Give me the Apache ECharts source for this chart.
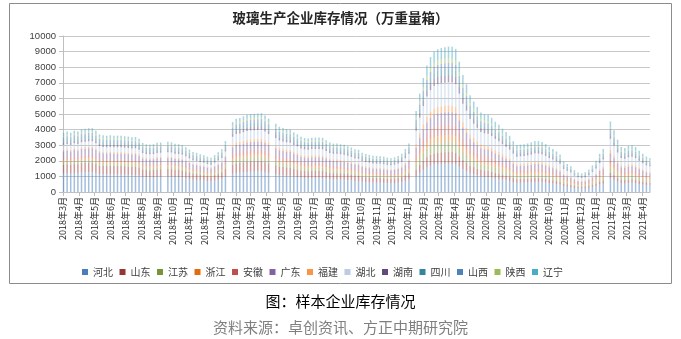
<!DOCTYPE html>
<html>
<head>
<meta charset="utf-8">
<script src="https://cdn.jsdelivr.net/npm/echarts/dist/echarts.min.js"></script>
<style>
html, body { margin: 0; padding: 0; background: #ffffff; }
#chart { width: 681px; height: 339px; }
</style>
</head>
<body>
<div id="chart"></div>
<script>
// Weekly report dates (holiday weeks without a report are absent)
const weeks = [
  '2018-03-02','2018-03-09','2018-03-16','2018-03-23','2018-03-30','2018-04-06','2018-04-13','2018-04-20','2018-04-27',
  '2018-05-04','2018-05-11','2018-05-18','2018-05-25','2018-06-01','2018-06-08','2018-06-15','2018-06-22','2018-06-29',
  '2018-07-06','2018-07-13','2018-07-20','2018-07-27','2018-08-03','2018-08-10','2018-08-17','2018-08-24','2018-08-31',
  '2018-09-07','2018-09-21','2018-09-28','2018-10-05','2018-10-12','2018-10-19','2018-10-26','2018-11-02','2018-11-09',
  '2018-11-16','2018-11-23','2018-11-30','2018-12-07','2018-12-14','2018-12-21','2018-12-28',
  '2019-01-04','2019-01-11','2019-01-25','2019-02-01','2019-02-08','2019-02-15','2019-02-22','2019-03-01','2019-03-08',
  '2019-03-15','2019-03-22','2019-03-29','2019-04-05','2019-04-19','2019-04-26','2019-05-03','2019-05-10','2019-05-17',
  '2019-05-24','2019-05-31','2019-06-07','2019-06-14','2019-06-21','2019-06-28','2019-07-05','2019-07-12','2019-07-19',
  '2019-07-26','2019-08-02','2019-08-09','2019-08-16','2019-08-23','2019-08-30','2019-09-06','2019-09-13','2019-09-20',
  '2019-09-27','2019-10-04','2019-10-11','2019-10-18','2019-10-25','2019-11-01','2019-11-08','2019-11-15','2019-11-22',
  '2019-11-29','2019-12-06','2019-12-13','2019-12-20','2019-12-27',
  '2020-01-03','2020-01-17','2020-01-24','2020-01-31','2020-02-07','2020-02-14','2020-02-21','2020-02-28','2020-03-06',
  '2020-03-13','2020-03-20','2020-03-27','2020-04-03','2020-04-10','2020-04-17','2020-04-24','2020-05-01','2020-05-08',
  '2020-05-15','2020-05-22','2020-05-29','2020-06-05','2020-06-12','2020-06-19','2020-06-26','2020-07-03','2020-07-10',
  '2020-07-17','2020-07-24','2020-07-31','2020-08-07','2020-08-14','2020-08-21','2020-08-28','2020-09-04','2020-09-11',
  '2020-09-18','2020-09-25','2020-10-02','2020-10-09','2020-10-16','2020-10-23','2020-10-30','2020-11-06','2020-11-13',
  '2020-11-20','2020-11-27','2020-12-04','2020-12-11','2020-12-18','2020-12-25',
  '2021-01-01','2021-01-08','2021-01-15','2021-01-29','2021-02-05','2021-02-12','2021-02-19','2021-02-26','2021-03-05',
  '2021-03-12','2021-03-19','2021-03-26','2021-04-02','2021-04-09','2021-04-16'
];

// Inventory by province, 万重量箱, one value per report date
const hebei = [
  1180,1200,1180,1220,1200,1250,1260,1270,1270,1210,1140,1130,1120,1130,1120,1120,1120,1110,1100,1090,1090,1060,980,950,940,950,980,980,1000,990,960,950,930,890,840,790,780,750,730,700,680,730,790,850,1010,
  1165,1222,1235,1261,1287,1300,1305,1310,1313,1274,1222,1139,1087,1066,1050,1040,993,962,920,900,892,905,907,907,902,863,824,806,806,796,785,764,741,712,702,655,634,619,603,598,595,588,572,564,577,601,637,715,806,
  1014,1229,1424,1580,1687,1755,1784,1800,1810,1817,1814,1788,1628,1463,1346,1209,1131,1063,995,971,965,926,878,839,792,751,702,636,585,593,597,606,620,636,636,624,599,564,538,507,468,382,351,322,273,244,232,246,279,332,390,478,536,881,770,653,562,550,575,585,562,517,478,443,425
];
const shandong = [
  570,580,570,590,580,600,610,620,620,590,550,550,540,550,540,540,540,540,530,530,530,510,470,460,460,460,470,480,480,480,460,460,450,430,410,380,380,360,350,340,330,350,380,410,490,
  582,611,618,631,644,650,653,655,657,637,611,569,543,533,525,520,497,481,460,450,446,452,454,454,451,432,412,403,403,398,393,382,371,356,351,328,317,309,302,299,298,294,286,282,289,300,319,358,403,
  416,504,584,648,692,720,732,738,742,746,744,734,668,600,552,496,464,436,408,398,396,380,360,344,325,308,288,261,240,243,245,249,254,261,261,256,246,231,221,208,192,157,144,132,112,100,95,101,114,136,160,196,220,362,316,268,230,226,236,240,230,212,196,182,174
];
const jiangsu = [
  170,170,170,180,170,180,180,180,180,180,170,160,160,160,160,160,160,160,160,160,160,150,140,140,140,140,140,140,140,140,140,140,140,130,120,120,110,110,110,100,100,110,110,120,150,
  246,259,261,267,272,275,276,277,278,270,259,241,230,226,222,220,210,204,195,190,189,191,192,192,191,183,174,171,171,168,166,162,157,151,149,139,134,131,128,127,126,124,121,119,122,127,135,151,171,
  364,441,511,567,606,630,641,646,650,652,651,642,585,525,483,434,406,382,357,349,347,333,315,301,284,270,252,228,210,213,214,218,223,228,228,224,215,202,193,182,168,137,126,116,98,88,83,88,100,119,140,172,193,316,277,235,202,197,207,210,202,186,172,159,153
];
const zhejiang = [
  110,120,110,120,120,120,120,120,120,120,110,110,110,110,110,110,110,110,110,100,110,100,90,90,90,90,100,100,100,100,90,90,90,90,80,80,80,70,70,70,70,70,80,80,100,
  157,165,166,170,173,175,176,176,177,172,165,153,146,144,141,140,134,130,124,121,120,122,122,122,121,116,111,109,109,107,106,103,100,96,95,88,85,83,81,81,80,79,77,76,78,81,86,96,109,
  234,284,329,365,389,405,412,415,418,419,419,413,376,338,311,279,261,245,230,224,223,214,203,194,183,173,162,147,135,137,138,140,143,147,147,144,138,130,124,117,108,88,81,74,63,56,54,57,64,77,90,110,124,203,178,151,130,127,133,135,130,119,110,102,98
];
const anhui = [
  170,170,170,180,170,180,180,180,180,180,170,160,160,160,160,160,160,160,160,160,160,150,140,140,140,140,140,140,140,140,140,140,140,130,120,120,110,110,110,100,100,110,110,120,150,
  269,282,285,291,297,300,301,302,303,294,282,263,251,246,242,240,229,222,212,208,206,209,209,209,208,199,190,186,186,184,181,176,171,164,162,151,146,143,139,138,137,136,132,130,133,139,147,165,186,
  390,473,548,608,649,675,686,692,696,699,698,688,626,563,518,465,435,409,383,374,371,356,338,323,305,289,270,245,225,228,230,233,239,245,245,240,230,217,207,195,180,147,135,124,105,94,89,95,107,128,150,184,206,339,296,251,216,212,221,225,216,199,184,170,164
];
const guangdong = [
  400,410,400,410,410,420,430,430,430,410,390,380,380,380,380,380,380,370,370,370,370,360,330,320,320,320,330,330,340,330,320,320,320,300,290,270,260,250,250,240,230,250,270,290,340,
  448,470,475,485,495,500,502,504,505,490,470,438,418,410,404,400,382,370,354,346,343,348,349,349,347,332,317,310,310,306,302,294,285,274,270,252,244,238,232,230,229,226,220,217,222,231,245,275,310,
  442,536,621,689,735,765,778,785,789,792,791,779,710,638,587,527,493,463,434,423,421,404,383,366,345,327,306,277,255,258,260,264,270,277,277,272,261,246,235,221,204,167,153,140,119,106,101,107,122,145,170,208,234,384,336,285,245,240,251,255,245,225,208,193,185
];
const fujian = [
  95,97,95,98,97,100,102,103,103,98,92,91,90,91,90,91,91,89,89,88,88,86,79,76,76,77,79,79,81,80,77,77,75,72,68,64,63,61,59,56,55,59,64,69,81,
  157,165,166,170,173,175,176,176,177,172,165,153,146,144,141,140,134,130,124,121,120,122,122,122,121,116,111,109,109,107,106,103,100,96,95,88,85,83,81,81,80,79,77,76,78,81,86,96,109,
  234,284,329,365,389,405,412,415,418,419,419,413,376,338,311,279,261,245,230,224,223,214,203,194,183,173,162,147,135,137,138,140,143,147,147,144,138,130,124,117,108,88,81,74,63,56,54,57,64,77,90,110,124,203,178,151,130,127,133,135,130,119,110,102,98
];
const hubei = [
  323,329,323,333,330,342,345,349,349,332,313,310,307,309,307,308,308,303,303,298,298,291,268,259,258,260,269,269,274,270,263,260,255,243,231,218,213,206,199,191,187,201,217,234,276,
  515,541,546,558,569,575,577,580,581,564,541,504,481,472,465,460,439,426,407,398,394,400,401,401,399,382,365,357,357,352,347,338,328,315,311,290,281,274,267,265,263,260,253,250,255,266,282,316,357,
  832,1008,1168,1296,1384,1440,1464,1477,1485,1491,1488,1467,1336,1200,1104,992,928,872,816,797,792,760,720,688,650,616,576,522,480,486,490,498,509,522,522,512,491,462,442,416,384,314,288,264,224,200,190,202,229,272,320,392,440,723,632,536,461,451,472,480,461,424,392,363,349
];
const hunan = [
  152,155,152,157,155,161,162,164,164,156,147,146,144,146,144,145,145,143,142,140,140,137,126,122,122,122,126,127,129,127,124,122,120,114,109,102,100,97,94,90,88,94,102,110,130,
  202,212,214,218,223,225,226,227,227,221,212,197,188,185,182,180,172,167,159,156,154,157,157,157,156,149,143,140,140,138,136,132,128,123,122,113,110,107,104,104,103,102,99,98,100,104,110,124,140,
  260,315,365,405,433,450,458,462,464,466,465,459,418,375,345,310,290,273,255,249,248,238,225,215,203,193,180,163,150,152,153,156,159,163,163,160,154,145,138,130,120,98,90,83,70,63,60,63,72,85,100,123,138,226,198,168,144,141,148,150,144,133,123,114,109
];
const sichuan = [
  190,194,190,196,194,201,203,205,205,195,184,183,181,182,181,181,181,179,178,175,176,171,158,153,152,153,158,159,161,159,155,153,150,143,136,128,125,121,117,113,110,118,128,138,163,
  224,235,238,243,248,250,251,252,253,245,235,219,209,205,202,200,191,185,177,173,172,174,175,175,174,166,159,155,155,153,151,147,143,137,135,126,122,119,116,115,115,113,110,109,111,116,123,138,155,
  234,284,329,365,389,405,412,415,418,419,419,413,376,338,311,279,261,245,230,224,223,214,203,194,183,173,162,147,135,137,138,140,143,147,147,144,138,130,124,117,108,88,81,74,63,56,54,57,64,77,90,110,124,203,178,151,130,127,133,135,130,119,110,102,98
];
const shanxi = [
  152,155,152,157,155,161,162,164,164,156,147,146,144,146,144,145,145,143,142,140,140,137,126,122,122,122,126,127,129,127,124,122,120,114,109,102,100,97,94,90,88,94,102,110,130,
  179,188,190,194,198,200,201,202,202,196,188,175,167,164,162,160,153,148,142,138,137,139,140,140,139,133,127,124,124,122,121,118,114,110,108,101,98,95,93,92,92,90,88,87,89,92,98,110,124,
  208,252,292,324,346,360,366,369,371,373,372,367,334,300,276,248,232,218,204,199,198,190,180,172,162,154,144,130,120,122,122,124,127,130,130,128,123,116,110,104,96,78,72,66,56,50,48,50,57,68,80,98,110,181,158,134,115,113,118,120,115,106,98,91,87
];
const shaanxi = [
  95,97,95,98,97,100,102,103,103,98,92,91,90,91,90,91,91,89,89,88,88,86,79,76,76,77,79,79,81,80,77,77,75,72,68,64,63,61,59,56,55,59,64,69,81,
  112,118,119,121,124,125,126,126,126,123,118,110,105,103,101,100,96,93,89,87,86,87,87,87,87,83,79,78,78,77,76,74,71,69,68,63,61,60,58,58,57,57,55,54,56,58,61,69,78,
  156,189,219,243,260,270,275,277,278,280,279,275,251,225,207,186,174,164,153,149,149,143,135,129,122,116,108,98,90,91,92,93,95,98,98,96,92,87,83,78,72,59,54,50,42,38,36,38,43,51,60,74,83,136,119,101,86,85,89,90,86,80,74,68,65
];
const liaoning = [
  190,194,190,196,194,201,203,205,205,195,184,183,181,182,181,181,181,179,178,175,176,171,158,153,152,153,158,159,161,159,155,153,150,143,136,128,125,121,117,113,110,118,128,138,163,
  224,235,238,243,248,250,251,252,253,245,235,219,209,205,202,200,191,185,177,173,172,174,175,175,174,166,159,155,155,153,151,147,143,137,135,126,122,119,116,115,115,113,110,109,111,116,123,138,155,
  416,504,584,648,692,720,732,738,742,746,744,734,668,600,552,496,464,436,408,398,396,380,360,344,325,308,288,261,240,243,245,249,254,261,261,256,246,231,221,208,192,157,144,132,112,100,95,101,114,136,160,196,220,362,316,268,230,226,236,240,230,212,196,182,174
];

const regions = ['河北','山东','江苏','浙江','安徽','广东','福建','湖北','湖南','四川','山西','陕西','辽宁'];
const regionValues = [hebei, shandong, jiangsu, zhejiang, anhui, guangdong, fujian, hubei, hunan, sichuan, shanxi, shaanxi, liaoning];
const regionColors = ['#4A7EBB','#953735','#77933C','#E46C0A','#C0504D','#8064A2','#F79646','#B9CDE5','#604A7B','#31859C','#4F81BD','#9BBB59','#4BACC6'];

// Date axis: one category per calendar day from the first of March 2018
// to the last report, so reports and month starts fall at their real dates
const axisStart = '2018-03-01';
const axisEnd = '2021-04-16';
function isoDay(d) {
  const m = d.getUTCMonth() + 1, day = d.getUTCDate();
  return d.getUTCFullYear() + '-' + (m < 10 ? '0' : '') + m + '-' + (day < 10 ? '0' : '') + day;
}
const days = [];
for (let t = Date.parse(axisStart + 'T00:00:00Z'); t <= Date.parse(axisEnd + 'T00:00:00Z'); t += 86400000) {
  days.push(isoDay(new Date(t)));
}
const weekIndex = new Map(weeks.map((w, j) => [w, j]));
const isMonthStart = (idx, val) => val.slice(8) === '01';
function monthLabel(val) {
  const p = val.split('-');
  return p[0] + '年' + Number(p[1]) + '月';
}

const cjk = '"Noto Sans CJK SC", "Liberation Sans", sans-serif';

const chart = echarts.init(document.getElementById('chart'), null, { renderer: 'canvas' });
chart.setOption({
  animation: false,
  backgroundColor: '#ffffff',
  title: [
    { text: '玻璃生产企业库存情况（万重量箱）', left: 'center', top: 6,
      textStyle: { fontSize: 13.5, fontWeight: 'bold', color: '#262626', fontFamily: cjk } },
    { text: '图：样本企业库存情况', left: 'center', top: 289,
      textStyle: { fontSize: 15, fontWeight: 'normal', color: '#000000', fontFamily: cjk } },
    { text: '资料来源：卓创资讯、方正中期研究院', left: 'center', top: 315,
      textStyle: { fontSize: 15, fontWeight: 'normal', color: '#7f7f7f', fontFamily: cjk } }
  ],
  graphic: [
    { type: 'rect', silent: true, z: -10,
      shape: { x: 9.5, y: 3.5, width: 662, height: 280 },
      style: { fill: 'none', stroke: '#8c8c8c', lineWidth: 1 } }
  ],
  legend: {
    left: 77, top: 262,
    itemWidth: 6, itemHeight: 6, itemGap: 6.5,
    icon: 'rect',
    textStyle: { fontSize: 10, color: '#404040', fontFamily: cjk },
    data: regions.map((name, i) => ({ name: name, itemStyle: { color: regionColors[i], opacity: 1 } }))
  },
  grid: { left: 63, right: 31, top: 36, bottom: 147 },
  xAxis: {
    type: 'category',
    data: days,
    boundaryGap: false,
    splitLine: { show: false },
    axisLine: { show: true, lineStyle: { color: '#bfbfbf', width: 1 } },
    axisTick: { show: true, length: 4, interval: isMonthStart, lineStyle: { color: '#bfbfbf' } },
    axisLabel: {
      interval: isMonthStart,
      rotate: 90, margin: 5, fontSize: 9, color: '#262626', fontFamily: cjk,
      formatter: monthLabel
    }
  },
  yAxis: {
    type: 'value', min: 0, max: 10000, interval: 1000,
    axisLine: { show: true, lineStyle: { color: '#bfbfbf', width: 1 } },
    axisTick: { show: true, length: 4, lineStyle: { color: '#bfbfbf' } },
    splitLine: { show: true, lineStyle: { color: '#c8c8c8', width: 1 } },
    axisLabel: { fontSize: 9.5, color: '#404040', margin: 7,
      fontFamily: '"Liberation Sans", Arial, sans-serif',
      formatter: (v) => String(v) }
  },
  series: regions.map((name, i) => ({
    name: name,
    type: 'bar',
    stack: 'stock',
    barWidth: 1.5,
    itemStyle: { color: regionColors[i], opacity: 0.5 },
    emphasis: { disabled: true },
    data: days.map((d) => (weekIndex.has(d) ? regionValues[i][weekIndex.get(d)] : null))
  }))
});
</script>
</body>
</html>
